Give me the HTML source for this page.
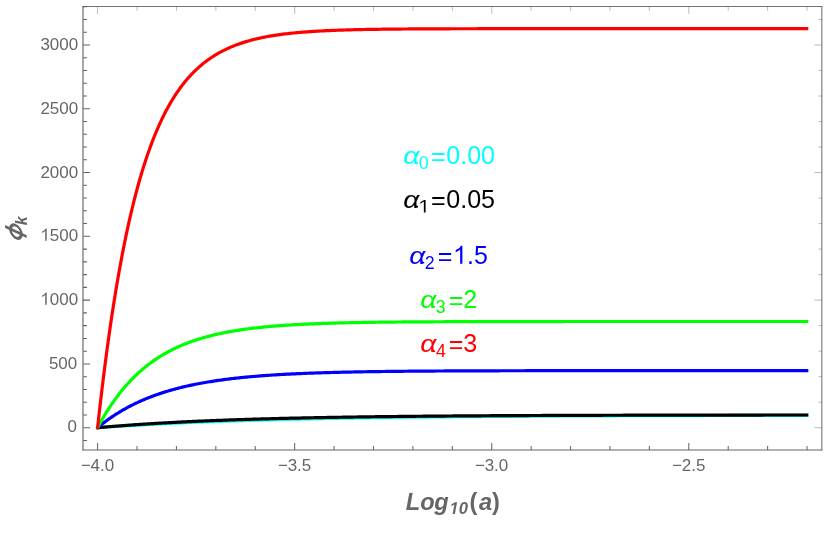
<!DOCTYPE html>
<html><head><meta charset="utf-8"><title>plot</title>
<style>
html,body{margin:0;padding:0;background:#fff;}
body{width:830px;height:554px;overflow:hidden;}
svg{display:block;will-change:transform;font-family:"Liberation Sans",sans-serif;}
</style></head><body>
<svg width="830" height="554" viewBox="0 0 830 554">
<rect width="830" height="554" fill="#fff"/>
<g fill="none" stroke-linejoin="round" stroke-linecap="butt" stroke-width="3.20">
<path d="M96.40,427.79 L97.60,427.70 L97.65,427.70 L97.75,427.69 L97.88,427.68 L98.05,427.67 L98.24,427.65 L98.46,427.64 L98.70,427.62 L98.96,427.60 L99.24,427.58 L99.54,427.56 L99.86,427.54 L100.20,427.51 L100.55,427.49 L100.92,427.46 L101.31,427.44 L101.71,427.41 L102.13,427.38 L102.57,427.35 L103.02,427.32 L103.48,427.28 L103.96,427.25 L104.45,427.22 L104.95,427.18 L105.47,427.15 L106.00,427.11 L106.54,427.07 L107.10,427.03 L107.67,427.00 L108.25,426.96 L108.85,426.92 L109.45,426.88 L110.07,426.83 L110.70,426.79 L111.34,426.75 L111.99,426.71 L112.66,426.66 L113.33,426.62 L114.02,426.57 L114.71,426.53 L115.42,426.48 L116.14,426.43 L116.87,426.39 L117.61,426.34 L118.36,426.29 L119.12,426.24 L119.89,426.19 L120.67,426.15 L121.46,426.10 L122.26,426.05 L123.07,426.00 L123.89,425.94 L124.72,425.89 L125.55,425.84 L126.40,425.79 L127.26,425.74 L128.13,425.68 L129.01,425.63 L129.89,425.58 L130.79,425.53 L131.69,425.47 L132.61,425.42 L133.53,425.36 L134.46,425.31 L135.40,425.25 L136.35,425.20 L137.31,425.14 L138.28,425.09 L139.25,425.03 L140.24,424.98 L141.23,424.92 L142.23,424.87 L143.24,424.81 L144.26,424.75 L145.29,424.70 L146.32,424.64 L147.36,424.58 L148.42,424.53 L149.48,424.47 L150.54,424.41 L151.62,424.36 L152.71,424.30 L153.80,424.24 L154.90,424.19 L156.01,424.13 L157.12,424.07 L158.25,424.01 L159.38,423.96 L160.52,423.90 L161.67,423.84 L162.82,423.78 L163.99,423.73 L165.16,423.67 L166.34,423.61 L167.52,423.55 L168.72,423.50 L169.92,423.44 L171.13,423.38 L172.34,423.33 L173.57,423.27 L174.80,423.21 L176.04,423.15 L177.28,423.10 L178.54,423.04 L179.80,422.98 L181.07,422.93 L182.34,422.87 L183.63,422.81 L184.92,422.76 L186.21,422.70 L187.52,422.64 L188.83,422.59 L190.15,422.53 L191.47,422.48 L192.81,422.42 L194.15,422.36 L195.49,422.31 L196.85,422.25 L198.21,422.20 L199.57,422.14 L200.95,422.09 L202.33,422.03 L203.72,421.98 L205.11,421.92 L206.52,421.87 L207.92,421.82 L209.34,421.76 L210.76,421.71 L212.19,421.65 L213.63,421.60 L215.07,421.55 L216.52,421.49 L217.97,421.44 L219.44,421.39 L220.91,421.34 L222.38,421.28 L223.86,421.23 L225.35,421.18 L226.85,421.13 L228.35,421.08 L229.86,421.03 L231.37,420.98 L232.89,420.93 L234.42,420.88 L235.96,420.83 L237.50,420.78 L239.04,420.73 L240.60,420.68 L242.16,420.63 L243.72,420.58 L245.29,420.53 L246.87,420.48 L248.46,420.43 L250.05,420.38 L251.65,420.34 L253.25,420.29 L254.86,420.24 L256.47,420.19 L258.10,420.15 L259.73,420.10 L261.36,420.05 L263.00,420.01 L264.65,419.96 L266.30,419.92 L267.96,419.87 L269.62,419.83 L271.30,419.78 L272.97,419.74 L274.66,419.69 L276.35,419.65 L278.04,419.61 L279.74,419.56 L281.45,419.52 L283.16,419.48 L284.88,419.43 L286.61,419.39 L288.34,419.35 L290.07,419.31 L291.82,419.27 L293.57,419.23 L295.32,419.19 L297.08,419.14 L298.85,419.10 L300.62,419.06 L302.40,419.02 L304.18,418.98 L305.97,418.95 L307.77,418.91 L309.57,418.87 L311.37,418.83 L313.19,418.79 L315.00,418.75 L316.83,418.72 L318.66,418.68 L320.49,418.64 L322.34,418.60 L324.18,418.57 L326.03,418.53 L327.89,418.50 L329.76,418.46 L331.63,418.43 L333.50,418.39 L335.38,418.36 L337.27,418.32 L339.16,418.29 L341.06,418.25 L342.96,418.22 L344.87,418.18 L346.78,418.15 L348.70,418.12 L350.63,418.09 L352.56,418.05 L354.49,418.02 L356.44,417.99 L358.38,417.96 L360.33,417.93 L362.29,417.90 L364.26,417.86 L366.22,417.83 L368.20,417.80 L370.18,417.77 L372.16,417.74 L374.15,417.71 L376.15,417.68 L378.15,417.66 L380.16,417.63 L382.17,417.60 L384.19,417.57 L386.21,417.54 L388.24,417.51 L390.27,417.49 L392.31,417.46 L394.35,417.43 L396.40,417.41 L398.46,417.38 L400.52,417.35 L402.58,417.33 L404.65,417.30 L406.73,417.27 L408.81,417.25 L410.90,417.22 L412.99,417.20 L415.08,417.17 L417.18,417.15 L419.29,417.13 L421.40,417.10 L423.52,417.08 L425.64,417.06 L427.77,417.03 L429.90,417.01 L432.04,416.99 L434.18,416.96 L436.33,416.94 L438.49,416.92 L440.64,416.90 L442.81,416.88 L444.98,416.85 L447.15,416.83 L449.33,416.81 L451.51,416.79 L453.70,416.77 L455.90,416.75 L458.09,416.73 L460.30,416.71 L462.51,416.69 L464.72,416.67 L466.94,416.65 L469.16,416.63 L471.39,416.61 L473.63,416.59 L475.87,416.58 L478.11,416.56 L480.36,416.54 L482.61,416.52 L484.87,416.50 L487.14,416.49 L489.41,416.47 L491.68,416.45 L493.96,416.43 L496.24,416.42 L498.53,416.40 L500.82,416.38 L503.12,416.37 L505.43,416.35 L507.73,416.33 L510.05,416.32 L512.36,416.30 L514.69,416.29 L517.02,416.27 L519.35,416.26 L521.68,416.24 L524.03,416.23 L526.37,416.21 L528.73,416.20 L531.08,416.18 L533.44,416.17 L535.81,416.16 L538.18,416.14 L540.56,416.13 L542.94,416.12 L545.32,416.10 L547.71,416.09 L550.11,416.08 L552.51,416.06 L554.91,416.05 L557.32,416.04 L559.74,416.03 L562.16,416.01 L564.58,416.00 L567.01,415.99 L569.44,415.98 L571.88,415.97 L574.32,415.95 L576.77,415.94 L579.22,415.93 L581.68,415.92 L584.14,415.91 L586.60,415.90 L589.07,415.89 L591.55,415.88 L594.03,415.87 L596.51,415.86 L599.00,415.85 L601.49,415.84 L603.99,415.83 L606.50,415.82 L609.00,415.81 L611.52,415.80 L614.03,415.79 L616.55,415.78 L619.08,415.77 L621.61,415.76 L624.15,415.75 L626.69,415.74 L629.23,415.73 L631.78,415.72 L634.33,415.72 L636.89,415.71 L639.45,415.70 L642.02,415.69 L644.59,415.68 L647.17,415.67 L649.75,415.67 L652.34,415.66 L654.93,415.65 L657.52,415.64 L660.12,415.64 L662.72,415.63 L665.33,415.62 L667.94,415.61 L670.56,415.61 L673.18,415.60 L675.81,415.59 L678.44,415.59 L681.07,415.58 L683.71,415.57 L686.36,415.57 L689.01,415.56 L691.66,415.55 L694.32,415.55 L696.98,415.54 L699.64,415.53 L702.31,415.53 L704.99,415.52 L707.67,415.52 L710.35,415.51 L713.04,415.50 L715.73,415.50 L718.43,415.49 L721.13,415.49 L723.84,415.48 L726.55,415.48 L729.26,415.47 L731.98,415.47 L734.70,415.46 L737.43,415.46 L740.16,415.45 L742.90,415.45 L745.64,415.44 L748.39,415.44 L751.14,415.43 L753.89,415.43 L756.65,415.42 L759.41,415.42 L762.18,415.41 L764.95,415.41 L767.72,415.41 L770.50,415.40 L773.29,415.40 L776.08,415.39 L778.87,415.39 L781.67,415.38 L784.47,415.38 L787.27,415.38 L790.08,415.37 L792.90,415.37 L795.72,415.37 L798.54,415.36 L801.37,415.36 L804.20,415.35 L807.03,415.35 L808.33,415.35" stroke="#00ffff"/>
<path d="M96.40,427.81 L97.60,427.70 L97.65,427.70 L97.75,427.69 L97.88,427.67 L98.05,427.66 L98.24,427.64 L98.46,427.62 L98.70,427.60 L98.96,427.58 L99.24,427.55 L99.54,427.53 L99.86,427.50 L100.20,427.47 L100.55,427.44 L100.92,427.41 L101.31,427.37 L101.71,427.34 L102.13,427.30 L102.57,427.26 L103.02,427.22 L103.48,427.18 L103.96,427.14 L104.45,427.10 L104.95,427.06 L105.47,427.01 L106.00,426.97 L106.54,426.92 L107.10,426.88 L107.67,426.83 L108.25,426.78 L108.85,426.73 L109.45,426.68 L110.07,426.63 L110.70,426.58 L111.34,426.52 L111.99,426.47 L112.66,426.42 L113.33,426.36 L114.02,426.31 L114.71,426.25 L115.42,426.20 L116.14,426.14 L116.87,426.08 L117.61,426.03 L118.36,425.97 L119.12,425.91 L119.89,425.85 L120.67,425.79 L121.46,425.73 L122.26,425.67 L123.07,425.61 L123.89,425.55 L124.72,425.48 L125.55,425.42 L126.40,425.36 L127.26,425.30 L128.13,425.23 L129.01,425.17 L129.89,425.11 L130.79,425.04 L131.69,424.98 L132.61,424.92 L133.53,424.85 L134.46,424.79 L135.40,424.72 L136.35,424.66 L137.31,424.59 L138.28,424.53 L139.25,424.46 L140.24,424.39 L141.23,424.33 L142.23,424.26 L143.24,424.20 L144.26,424.13 L145.29,424.06 L146.32,424.00 L147.36,423.93 L148.42,423.87 L149.48,423.80 L150.54,423.73 L151.62,423.67 L152.71,423.60 L153.80,423.53 L154.90,423.47 L156.01,423.40 L157.12,423.33 L158.25,423.27 L159.38,423.20 L160.52,423.14 L161.67,423.07 L162.82,423.00 L163.99,422.94 L165.16,422.87 L166.34,422.81 L167.52,422.74 L168.72,422.68 L169.92,422.61 L171.13,422.55 L172.34,422.48 L173.57,422.42 L174.80,422.35 L176.04,422.29 L177.28,422.22 L178.54,422.16 L179.80,422.10 L181.07,422.03 L182.34,421.97 L183.63,421.91 L184.92,421.84 L186.21,421.78 L187.52,421.72 L188.83,421.65 L190.15,421.59 L191.47,421.53 L192.81,421.47 L194.15,421.41 L195.49,421.35 L196.85,421.29 L198.21,421.22 L199.57,421.16 L200.95,421.10 L202.33,421.04 L203.72,420.99 L205.11,420.93 L206.52,420.87 L207.92,420.81 L209.34,420.75 L210.76,420.69 L212.19,420.63 L213.63,420.58 L215.07,420.52 L216.52,420.46 L217.97,420.41 L219.44,420.35 L220.91,420.30 L222.38,420.24 L223.86,420.18 L225.35,420.13 L226.85,420.08 L228.35,420.02 L229.86,419.97 L231.37,419.91 L232.89,419.86 L234.42,419.81 L235.96,419.76 L237.50,419.70 L239.04,419.65 L240.60,419.60 L242.16,419.55 L243.72,419.50 L245.29,419.45 L246.87,419.40 L248.46,419.35 L250.05,419.30 L251.65,419.25 L253.25,419.20 L254.86,419.15 L256.47,419.11 L258.10,419.06 L259.73,419.01 L261.36,418.96 L263.00,418.92 L264.65,418.87 L266.30,418.83 L267.96,418.78 L269.62,418.74 L271.30,418.69 L272.97,418.65 L274.66,418.60 L276.35,418.56 L278.04,418.52 L279.74,418.47 L281.45,418.43 L283.16,418.39 L284.88,418.35 L286.61,418.31 L288.34,418.26 L290.07,418.22 L291.82,418.18 L293.57,418.14 L295.32,418.10 L297.08,418.06 L298.85,418.03 L300.62,417.99 L302.40,417.95 L304.18,417.91 L305.97,417.87 L307.77,417.84 L309.57,417.80 L311.37,417.76 L313.19,417.73 L315.00,417.69 L316.83,417.66 L318.66,417.62 L320.49,417.59 L322.34,417.55 L324.18,417.52 L326.03,417.48 L327.89,417.45 L329.76,417.42 L331.63,417.39 L333.50,417.35 L335.38,417.32 L337.27,417.29 L339.16,417.26 L341.06,417.23 L342.96,417.20 L344.87,417.17 L346.78,417.14 L348.70,417.11 L350.63,417.08 L352.56,417.05 L354.49,417.02 L356.44,416.99 L358.38,416.96 L360.33,416.93 L362.29,416.91 L364.26,416.88 L366.22,416.85 L368.20,416.82 L370.18,416.80 L372.16,416.77 L374.15,416.75 L376.15,416.72 L378.15,416.69 L380.16,416.67 L382.17,416.65 L384.19,416.62 L386.21,416.60 L388.24,416.57 L390.27,416.55 L392.31,416.53 L394.35,416.50 L396.40,416.48 L398.46,416.46 L400.52,416.43 L402.58,416.41 L404.65,416.39 L406.73,416.37 L408.81,416.35 L410.90,416.33 L412.99,416.31 L415.08,416.29 L417.18,416.27 L419.29,416.25 L421.40,416.23 L423.52,416.21 L425.64,416.19 L427.77,416.17 L429.90,416.15 L432.04,416.13 L434.18,416.11 L436.33,416.10 L438.49,416.08 L440.64,416.06 L442.81,416.04 L444.98,416.03 L447.15,416.01 L449.33,415.99 L451.51,415.98 L453.70,415.96 L455.90,415.94 L458.09,415.93 L460.30,415.91 L462.51,415.90 L464.72,415.88 L466.94,415.87 L469.16,415.85 L471.39,415.84 L473.63,415.82 L475.87,415.81 L478.11,415.79 L480.36,415.78 L482.61,415.77 L484.87,415.75 L487.14,415.74 L489.41,415.73 L491.68,415.71 L493.96,415.70 L496.24,415.69 L498.53,415.67 L500.82,415.66 L503.12,415.65 L505.43,415.64 L507.73,415.63 L510.05,415.61 L512.36,415.60 L514.69,415.59 L517.02,415.58 L519.35,415.57 L521.68,415.56 L524.03,415.55 L526.37,415.54 L528.73,415.53 L531.08,415.52 L533.44,415.51 L535.81,415.50 L538.18,415.49 L540.56,415.48 L542.94,415.47 L545.32,415.46 L547.71,415.45 L550.11,415.44 L552.51,415.43 L554.91,415.42 L557.32,415.41 L559.74,415.41 L562.16,415.40 L564.58,415.39 L567.01,415.38 L569.44,415.37 L571.88,415.37 L574.32,415.36 L576.77,415.35 L579.22,415.34 L581.68,415.33 L584.14,415.33 L586.60,415.32 L589.07,415.31 L591.55,415.31 L594.03,415.30 L596.51,415.29 L599.00,415.29 L601.49,415.28 L603.99,415.27 L606.50,415.27 L609.00,415.26 L611.52,415.25 L614.03,415.25 L616.55,415.24 L619.08,415.24 L621.61,415.23 L624.15,415.22 L626.69,415.22 L629.23,415.21 L631.78,415.21 L634.33,415.20 L636.89,415.20 L639.45,415.19 L642.02,415.19 L644.59,415.18 L647.17,415.18 L649.75,415.17 L652.34,415.17 L654.93,415.16 L657.52,415.16 L660.12,415.15 L662.72,415.15 L665.33,415.14 L667.94,415.14 L670.56,415.14 L673.18,415.13 L675.81,415.13 L678.44,415.12 L681.07,415.12 L683.71,415.11 L686.36,415.11 L689.01,415.11 L691.66,415.10 L694.32,415.10 L696.98,415.10 L699.64,415.09 L702.31,415.09 L704.99,415.09 L707.67,415.08 L710.35,415.08 L713.04,415.08 L715.73,415.07 L718.43,415.07 L721.13,415.07 L723.84,415.06 L726.55,415.06 L729.26,415.06 L731.98,415.05 L734.70,415.05 L737.43,415.05 L740.16,415.05 L742.90,415.04 L745.64,415.04 L748.39,415.04 L751.14,415.04 L753.89,415.03 L756.65,415.03 L759.41,415.03 L762.18,415.03 L764.95,415.02 L767.72,415.02 L770.50,415.02 L773.29,415.02 L776.08,415.01 L778.87,415.01 L781.67,415.01 L784.47,415.01 L787.27,415.01 L790.08,415.00 L792.90,415.00 L795.72,415.00 L798.54,415.00 L801.37,415.00 L804.20,415.00 L807.03,414.99 L808.33,414.99" stroke="#000000"/>
<path d="M96.68,428.47 L97.60,427.70 L97.65,427.66 L97.75,427.58 L97.88,427.46 L98.05,427.33 L98.24,427.17 L98.46,426.99 L98.70,426.79 L98.96,426.58 L99.24,426.35 L99.54,426.11 L99.86,425.85 L100.20,425.58 L100.55,425.29 L100.92,425.00 L101.31,424.69 L101.71,424.37 L102.13,424.04 L102.57,423.71 L103.02,423.36 L103.48,423.00 L103.96,422.64 L104.45,422.27 L104.95,421.89 L105.47,421.50 L106.00,421.11 L106.54,420.71 L107.10,420.30 L107.67,419.89 L108.25,419.47 L108.85,419.05 L109.45,418.63 L110.07,418.19 L110.70,417.76 L111.34,417.32 L111.99,416.88 L112.66,416.43 L113.33,415.98 L114.02,415.53 L114.71,415.07 L115.42,414.62 L116.14,414.16 L116.87,413.70 L117.61,413.24 L118.36,412.77 L119.12,412.31 L119.89,411.84 L120.67,411.37 L121.46,410.90 L122.26,410.44 L123.07,409.97 L123.89,409.50 L124.72,409.03 L125.55,408.56 L126.40,408.10 L127.26,407.63 L128.13,407.16 L129.01,406.70 L129.89,406.23 L130.79,405.77 L131.69,405.31 L132.61,404.85 L133.53,404.39 L134.46,403.93 L135.40,403.48 L136.35,403.03 L137.31,402.58 L138.28,402.13 L139.25,401.68 L140.24,401.24 L141.23,400.80 L142.23,400.36 L143.24,399.92 L144.26,399.49 L145.29,399.06 L146.32,398.63 L147.36,398.21 L148.42,397.79 L149.48,397.37 L150.54,396.96 L151.62,396.55 L152.71,396.14 L153.80,395.74 L154.90,395.34 L156.01,394.94 L157.12,394.54 L158.25,394.15 L159.38,393.77 L160.52,393.39 L161.67,393.01 L162.82,392.63 L163.99,392.26 L165.16,391.89 L166.34,391.53 L167.52,391.17 L168.72,390.82 L169.92,390.47 L171.13,390.12 L172.34,389.77 L173.57,389.43 L174.80,389.10 L176.04,388.77 L177.28,388.44 L178.54,388.12 L179.80,387.80 L181.07,387.48 L182.34,387.17 L183.63,386.86 L184.92,386.56 L186.21,386.26 L187.52,385.97 L188.83,385.67 L190.15,385.39 L191.47,385.10 L192.81,384.82 L194.15,384.55 L195.49,384.28 L196.85,384.01 L198.21,383.75 L199.57,383.49 L200.95,383.23 L202.33,382.98 L203.72,382.73 L205.11,382.49 L206.52,382.25 L207.92,382.01 L209.34,381.78 L210.76,381.55 L212.19,381.32 L213.63,381.10 L215.07,380.88 L216.52,380.66 L217.97,380.45 L219.44,380.24 L220.91,380.04 L222.38,379.84 L223.86,379.64 L225.35,379.45 L226.85,379.26 L228.35,379.07 L229.86,378.88 L231.37,378.70 L232.89,378.53 L234.42,378.35 L235.96,378.18 L237.50,378.01 L239.04,377.85 L240.60,377.68 L242.16,377.52 L243.72,377.37 L245.29,377.21 L246.87,377.06 L248.46,376.92 L250.05,376.77 L251.65,376.63 L253.25,376.49 L254.86,376.35 L256.47,376.22 L258.10,376.09 L259.73,375.96 L261.36,375.83 L263.00,375.71 L264.65,375.59 L266.30,375.47 L267.96,375.35 L269.62,375.24 L271.30,375.13 L272.97,375.02 L274.66,374.91 L276.35,374.81 L278.04,374.70 L279.74,374.60 L281.45,374.51 L283.16,374.41 L284.88,374.32 L286.61,374.22 L288.34,374.13 L290.07,374.05 L291.82,373.96 L293.57,373.87 L295.32,373.79 L297.08,373.71 L298.85,373.63 L300.62,373.56 L302.40,373.48 L304.18,373.41 L305.97,373.33 L307.77,373.26 L309.57,373.19 L311.37,373.13 L313.19,373.06 L315.00,373.00 L316.83,372.93 L318.66,372.87 L320.49,372.81 L322.34,372.76 L324.18,372.70 L326.03,372.64 L327.89,372.59 L329.76,372.54 L331.63,372.48 L333.50,372.43 L335.38,372.38 L337.27,372.34 L339.16,372.29 L341.06,372.24 L342.96,372.20 L344.87,372.15 L346.78,372.11 L348.70,372.07 L350.63,372.03 L352.56,371.99 L354.49,371.95 L356.44,371.91 L358.38,371.88 L360.33,371.84 L362.29,371.81 L364.26,371.77 L366.22,371.74 L368.20,371.71 L370.18,371.68 L372.16,371.65 L374.15,371.62 L376.15,371.59 L378.15,371.56 L380.16,371.53 L382.17,371.51 L384.19,371.48 L386.21,371.46 L388.24,371.43 L390.27,371.41 L392.31,371.38 L394.35,371.36 L396.40,371.34 L398.46,371.32 L400.52,371.30 L402.58,371.28 L404.65,371.26 L406.73,371.24 L408.81,371.22 L410.90,371.20 L412.99,371.18 L415.08,371.17 L417.18,371.15 L419.29,371.13 L421.40,371.12 L423.52,371.10 L425.64,371.09 L427.77,371.07 L429.90,371.06 L432.04,371.04 L434.18,371.03 L436.33,371.02 L438.49,371.01 L440.64,370.99 L442.81,370.98 L444.98,370.97 L447.15,370.96 L449.33,370.95 L451.51,370.94 L453.70,370.93 L455.90,370.92 L458.09,370.91 L460.30,370.90 L462.51,370.89 L464.72,370.88 L466.94,370.87 L469.16,370.86 L471.39,370.86 L473.63,370.85 L475.87,370.84 L478.11,370.83 L480.36,370.83 L482.61,370.82 L484.87,370.81 L487.14,370.81 L489.41,370.80 L491.68,370.79 L493.96,370.79 L496.24,370.78 L498.53,370.78 L500.82,370.77 L503.12,370.77 L505.43,370.76 L507.73,370.76 L510.05,370.75 L512.36,370.75 L514.69,370.74 L517.02,370.74 L519.35,370.73 L521.68,370.73 L524.03,370.73 L526.37,370.72 L528.73,370.72 L531.08,370.71 L533.44,370.71 L535.81,370.71 L538.18,370.70 L540.56,370.70 L542.94,370.70 L545.32,370.69 L547.71,370.69 L550.11,370.69 L552.51,370.69 L554.91,370.68 L557.32,370.68 L559.74,370.68 L562.16,370.68 L564.58,370.67 L567.01,370.67 L569.44,370.67 L571.88,370.67 L574.32,370.67 L576.77,370.66 L579.22,370.66 L581.68,370.66 L584.14,370.66 L586.60,370.66 L589.07,370.66 L591.55,370.65 L594.03,370.65 L596.51,370.65 L599.00,370.65 L601.49,370.65 L603.99,370.65 L606.50,370.65 L609.00,370.64 L611.52,370.64 L614.03,370.64 L616.55,370.64 L619.08,370.64 L621.61,370.64 L624.15,370.64 L626.69,370.64 L629.23,370.64 L631.78,370.64 L634.33,370.63 L636.89,370.63 L639.45,370.63 L642.02,370.63 L644.59,370.63 L647.17,370.63 L649.75,370.63 L652.34,370.63 L654.93,370.63 L657.52,370.63 L660.12,370.63 L662.72,370.63 L665.33,370.63 L667.94,370.63 L670.56,370.63 L673.18,370.63 L675.81,370.62 L678.44,370.62 L681.07,370.62 L683.71,370.62 L686.36,370.62 L689.01,370.62 L691.66,370.62 L694.32,370.62 L696.98,370.62 L699.64,370.62 L702.31,370.62 L704.99,370.62 L707.67,370.62 L710.35,370.62 L713.04,370.62 L715.73,370.62 L718.43,370.62 L721.13,370.62 L723.84,370.62 L726.55,370.62 L729.26,370.62 L731.98,370.62 L734.70,370.62 L737.43,370.62 L740.16,370.62 L742.90,370.62 L745.64,370.62 L748.39,370.62 L751.14,370.62 L753.89,370.62 L756.65,370.62 L759.41,370.62 L762.18,370.62 L764.95,370.62 L767.72,370.62 L770.50,370.62 L773.29,370.62 L776.08,370.62 L778.87,370.62 L781.67,370.62 L784.47,370.61 L787.27,370.61 L790.08,370.61 L792.90,370.61 L795.72,370.61 L798.54,370.61 L801.37,370.61 L804.20,370.61 L807.03,370.61 L808.33,370.61" stroke="#0000ff"/>
<path d="M97.04,428.76 L97.60,427.70 L97.65,427.61 L97.75,427.42 L97.88,427.17 L98.05,426.86 L98.24,426.50 L98.46,426.10 L98.70,425.65 L98.96,425.17 L99.24,424.65 L99.54,424.10 L99.86,423.52 L100.20,422.91 L100.55,422.28 L100.92,421.62 L101.31,420.93 L101.71,420.22 L102.13,419.49 L102.57,418.73 L103.02,417.96 L103.48,417.17 L103.96,416.36 L104.45,415.54 L104.95,414.70 L105.47,413.85 L106.00,412.98 L106.54,412.10 L107.10,411.21 L107.67,410.31 L108.25,409.39 L108.85,408.47 L109.45,407.54 L110.07,406.60 L110.70,405.66 L111.34,404.70 L111.99,403.75 L112.66,402.78 L113.33,401.81 L114.02,400.84 L114.71,399.87 L115.42,398.89 L116.14,397.91 L116.87,396.92 L117.61,395.94 L118.36,394.96 L119.12,393.97 L119.89,392.99 L120.67,392.00 L121.46,391.02 L122.26,390.04 L123.07,389.06 L123.89,388.08 L124.72,387.11 L125.55,386.14 L126.40,385.17 L127.26,384.21 L128.13,383.25 L129.01,382.30 L129.89,381.35 L130.79,380.40 L131.69,379.46 L132.61,378.53 L133.53,377.60 L134.46,376.68 L135.40,375.77 L136.35,374.86 L137.31,373.96 L138.28,373.07 L139.25,372.18 L140.24,371.30 L141.23,370.43 L142.23,369.57 L143.24,368.72 L144.26,367.87 L145.29,367.03 L146.32,366.20 L147.36,365.38 L148.42,364.57 L149.48,363.77 L150.54,362.97 L151.62,362.19 L152.71,361.41 L153.80,360.64 L154.90,359.88 L156.01,359.14 L157.12,358.40 L158.25,357.67 L159.38,356.95 L160.52,356.24 L161.67,355.54 L162.82,354.84 L163.99,354.16 L165.16,353.49 L166.34,352.83 L167.52,352.17 L168.72,351.53 L169.92,350.90 L171.13,350.27 L172.34,349.66 L173.57,349.05 L174.80,348.46 L176.04,347.87 L177.28,347.29 L178.54,346.72 L179.80,346.16 L181.07,345.62 L182.34,345.08 L183.63,344.54 L184.92,344.02 L186.21,343.51 L187.52,343.01 L188.83,342.51 L190.15,342.02 L191.47,341.55 L192.81,341.08 L194.15,340.62 L195.49,340.16 L196.85,339.72 L198.21,339.29 L199.57,338.86 L200.95,338.44 L202.33,338.03 L203.72,337.63 L205.11,337.23 L206.52,336.85 L207.92,336.47 L209.34,336.09 L210.76,335.73 L212.19,335.37 L213.63,335.02 L215.07,334.68 L216.52,334.35 L217.97,334.02 L219.44,333.70 L220.91,333.38 L222.38,333.08 L223.86,332.78 L225.35,332.48 L226.85,332.19 L228.35,331.91 L229.86,331.64 L231.37,331.37 L232.89,331.10 L234.42,330.85 L235.96,330.60 L237.50,330.35 L239.04,330.11 L240.60,329.88 L242.16,329.65 L243.72,329.42 L245.29,329.21 L246.87,328.99 L248.46,328.78 L250.05,328.58 L251.65,328.38 L253.25,328.19 L254.86,328.00 L256.47,327.82 L258.10,327.64 L259.73,327.46 L261.36,327.29 L263.00,327.13 L264.65,326.96 L266.30,326.81 L267.96,326.65 L269.62,326.50 L271.30,326.36 L272.97,326.21 L274.66,326.07 L276.35,325.94 L278.04,325.81 L279.74,325.68 L281.45,325.55 L283.16,325.43 L284.88,325.31 L286.61,325.20 L288.34,325.09 L290.07,324.98 L291.82,324.87 L293.57,324.77 L295.32,324.67 L297.08,324.57 L298.85,324.48 L300.62,324.38 L302.40,324.29 L304.18,324.21 L305.97,324.12 L307.77,324.04 L309.57,323.96 L311.37,323.88 L313.19,323.81 L315.00,323.73 L316.83,323.66 L318.66,323.59 L320.49,323.53 L322.34,323.46 L324.18,323.40 L326.03,323.34 L327.89,323.28 L329.76,323.22 L331.63,323.16 L333.50,323.11 L335.38,323.05 L337.27,323.00 L339.16,322.95 L341.06,322.91 L342.96,322.86 L344.87,322.81 L346.78,322.77 L348.70,322.73 L350.63,322.69 L352.56,322.65 L354.49,322.61 L356.44,322.57 L358.38,322.53 L360.33,322.50 L362.29,322.46 L364.26,322.43 L366.22,322.40 L368.20,322.37 L370.18,322.34 L372.16,322.31 L374.15,322.28 L376.15,322.25 L378.15,322.23 L380.16,322.20 L382.17,322.18 L384.19,322.15 L386.21,322.13 L388.24,322.11 L390.27,322.09 L392.31,322.06 L394.35,322.04 L396.40,322.02 L398.46,322.01 L400.52,321.99 L402.58,321.97 L404.65,321.95 L406.73,321.94 L408.81,321.92 L410.90,321.91 L412.99,321.89 L415.08,321.88 L417.18,321.86 L419.29,321.85 L421.40,321.84 L423.52,321.82 L425.64,321.81 L427.77,321.80 L429.90,321.79 L432.04,321.78 L434.18,321.77 L436.33,321.76 L438.49,321.75 L440.64,321.74 L442.81,321.73 L444.98,321.72 L447.15,321.71 L449.33,321.70 L451.51,321.70 L453.70,321.69 L455.90,321.68 L458.09,321.67 L460.30,321.67 L462.51,321.66 L464.72,321.65 L466.94,321.65 L469.16,321.64 L471.39,321.64 L473.63,321.63 L475.87,321.63 L478.11,321.62 L480.36,321.62 L482.61,321.61 L484.87,321.61 L487.14,321.60 L489.41,321.60 L491.68,321.59 L493.96,321.59 L496.24,321.59 L498.53,321.58 L500.82,321.58 L503.12,321.58 L505.43,321.57 L507.73,321.57 L510.05,321.57 L512.36,321.57 L514.69,321.56 L517.02,321.56 L519.35,321.56 L521.68,321.55 L524.03,321.55 L526.37,321.55 L528.73,321.55 L531.08,321.55 L533.44,321.54 L535.81,321.54 L538.18,321.54 L540.56,321.54 L542.94,321.54 L545.32,321.54 L547.71,321.53 L550.11,321.53 L552.51,321.53 L554.91,321.53 L557.32,321.53 L559.74,321.53 L562.16,321.53 L564.58,321.52 L567.01,321.52 L569.44,321.52 L571.88,321.52 L574.32,321.52 L576.77,321.52 L579.22,321.52 L581.68,321.52 L584.14,321.52 L586.60,321.52 L589.07,321.52 L591.55,321.51 L594.03,321.51 L596.51,321.51 L599.00,321.51 L601.49,321.51 L603.99,321.51 L606.50,321.51 L609.00,321.51 L611.52,321.51 L614.03,321.51 L616.55,321.51 L619.08,321.51 L621.61,321.51 L624.15,321.51 L626.69,321.51 L629.23,321.51 L631.78,321.51 L634.33,321.51 L636.89,321.51 L639.45,321.51 L642.02,321.50 L644.59,321.50 L647.17,321.50 L649.75,321.50 L652.34,321.50 L654.93,321.50 L657.52,321.50 L660.12,321.50 L662.72,321.50 L665.33,321.50 L667.94,321.50 L670.56,321.50 L673.18,321.50 L675.81,321.50 L678.44,321.50 L681.07,321.50 L683.71,321.50 L686.36,321.50 L689.01,321.50 L691.66,321.50 L694.32,321.50 L696.98,321.50 L699.64,321.50 L702.31,321.50 L704.99,321.50 L707.67,321.50 L710.35,321.50 L713.04,321.50 L715.73,321.50 L718.43,321.50 L721.13,321.50 L723.84,321.50 L726.55,321.50 L729.26,321.50 L731.98,321.50 L734.70,321.50 L737.43,321.50 L740.16,321.50 L742.90,321.50 L745.64,321.50 L748.39,321.50 L751.14,321.50 L753.89,321.50 L756.65,321.50 L759.41,321.50 L762.18,321.50 L764.95,321.50 L767.72,321.50 L770.50,321.50 L773.29,321.50 L776.08,321.50 L778.87,321.50 L781.67,321.50 L784.47,321.50 L787.27,321.50 L790.08,321.50 L792.90,321.50 L795.72,321.50 L798.54,321.50 L801.37,321.50 L804.20,321.50 L807.03,321.50 L808.33,321.50" stroke="#00ff00"/>
<path d="M97.47,428.89 L97.60,427.70 L97.65,427.25 L97.75,426.34 L97.88,425.11 L98.05,423.60 L98.24,421.85 L98.46,419.89 L98.70,417.73 L98.96,415.40 L99.24,412.89 L99.54,410.24 L99.86,407.43 L100.20,404.50 L100.55,401.43 L100.92,398.25 L101.31,394.96 L101.71,391.56 L102.13,388.07 L102.57,384.49 L103.02,380.82 L103.48,377.08 L103.96,373.26 L104.45,369.38 L104.95,365.43 L105.47,361.43 L106.00,357.38 L106.54,353.28 L107.10,349.13 L107.67,344.95 L108.25,340.73 L108.85,336.49 L109.45,332.21 L110.07,327.92 L110.70,323.60 L111.34,319.27 L111.99,314.93 L112.66,310.58 L113.33,306.23 L114.02,301.87 L114.71,297.51 L115.42,293.16 L116.14,288.81 L116.87,284.47 L117.61,280.15 L118.36,275.83 L119.12,271.54 L119.89,267.26 L120.67,263.00 L121.46,258.77 L122.26,254.56 L123.07,250.37 L123.89,246.22 L124.72,242.09 L125.55,238.00 L126.40,233.94 L127.26,229.91 L128.13,225.93 L129.01,221.97 L129.89,218.06 L130.79,214.19 L131.69,210.35 L132.61,206.56 L133.53,202.82 L134.46,199.11 L135.40,195.45 L136.35,191.84 L137.31,188.27 L138.28,184.75 L139.25,181.27 L140.24,177.84 L141.23,174.46 L142.23,171.13 L143.24,167.85 L144.26,164.62 L145.29,161.43 L146.32,158.30 L147.36,155.21 L148.42,152.18 L149.48,149.19 L150.54,146.26 L151.62,143.37 L152.71,140.54 L153.80,137.75 L154.90,135.02 L156.01,132.33 L157.12,129.70 L158.25,127.11 L159.38,124.57 L160.52,122.08 L161.67,119.64 L162.82,117.24 L163.99,114.90 L165.16,112.60 L166.34,110.34 L167.52,108.14 L168.72,105.98 L169.92,103.86 L171.13,101.79 L172.34,99.77 L173.57,97.79 L174.80,95.85 L176.04,93.96 L177.28,92.11 L178.54,90.30 L179.80,88.53 L181.07,86.80 L182.34,85.12 L183.63,83.47 L184.92,81.86 L186.21,80.29 L187.52,78.76 L188.83,77.27 L190.15,75.81 L191.47,74.39 L192.81,73.01 L194.15,71.66 L195.49,70.34 L196.85,69.06 L198.21,67.81 L199.57,66.59 L200.95,65.41 L202.33,64.26 L203.72,63.13 L205.11,62.04 L206.52,60.98 L207.92,59.95 L209.34,58.94 L210.76,57.96 L212.19,57.01 L213.63,56.09 L215.07,55.19 L216.52,54.32 L217.97,53.47 L219.44,52.65 L220.91,51.85 L222.38,51.07 L223.86,50.32 L225.35,49.59 L226.85,48.88 L228.35,48.19 L229.86,47.52 L231.37,46.87 L232.89,46.24 L234.42,45.63 L235.96,45.04 L237.50,44.47 L239.04,43.92 L240.60,43.38 L242.16,42.86 L243.72,42.36 L245.29,41.87 L246.87,41.40 L248.46,40.94 L250.05,40.50 L251.65,40.07 L253.25,39.65 L254.86,39.25 L256.47,38.86 L258.10,38.49 L259.73,38.13 L261.36,37.78 L263.00,37.44 L264.65,37.11 L266.30,36.79 L267.96,36.49 L269.62,36.19 L271.30,35.91 L272.97,35.63 L274.66,35.37 L276.35,35.11 L278.04,34.86 L279.74,34.63 L281.45,34.40 L283.16,34.17 L284.88,33.96 L286.61,33.75 L288.34,33.55 L290.07,33.36 L291.82,33.17 L293.57,33.00 L295.32,32.82 L297.08,32.66 L298.85,32.50 L300.62,32.35 L302.40,32.20 L304.18,32.05 L305.97,31.92 L307.77,31.79 L309.57,31.66 L311.37,31.54 L313.19,31.42 L315.00,31.30 L316.83,31.20 L318.66,31.09 L320.49,30.99 L322.34,30.89 L324.18,30.80 L326.03,30.71 L327.89,30.62 L329.76,30.54 L331.63,30.46 L333.50,30.39 L335.38,30.31 L337.27,30.24 L339.16,30.17 L341.06,30.11 L342.96,30.05 L344.87,29.99 L346.78,29.93 L348.70,29.88 L350.63,29.82 L352.56,29.77 L354.49,29.72 L356.44,29.68 L358.38,29.63 L360.33,29.59 L362.29,29.55 L364.26,29.51 L366.22,29.47 L368.20,29.44 L370.18,29.40 L372.16,29.37 L374.15,29.34 L376.15,29.31 L378.15,29.28 L380.16,29.25 L382.17,29.22 L384.19,29.20 L386.21,29.17 L388.24,29.15 L390.27,29.13 L392.31,29.11 L394.35,29.08 L396.40,29.07 L398.46,29.05 L400.52,29.03 L402.58,29.01 L404.65,29.00 L406.73,28.98 L408.81,28.96 L410.90,28.95 L412.99,28.94 L415.08,28.92 L417.18,28.91 L419.29,28.90 L421.40,28.89 L423.52,28.88 L425.64,28.87 L427.77,28.86 L429.90,28.85 L432.04,28.84 L434.18,28.83 L436.33,28.82 L438.49,28.81 L440.64,28.81 L442.81,28.80 L444.98,28.79 L447.15,28.79 L449.33,28.78 L451.51,28.77 L453.70,28.77 L455.90,28.76 L458.09,28.76 L460.30,28.75 L462.51,28.75 L464.72,28.74 L466.94,28.74 L469.16,28.74 L471.39,28.73 L473.63,28.73 L475.87,28.73 L478.11,28.72 L480.36,28.72 L482.61,28.72 L484.87,28.71 L487.14,28.71 L489.41,28.71 L491.68,28.71 L493.96,28.70 L496.24,28.70 L498.53,28.70 L500.82,28.70 L503.12,28.70 L505.43,28.69 L507.73,28.69 L510.05,28.69 L512.36,28.69 L514.69,28.69 L517.02,28.69 L519.35,28.68 L521.68,28.68 L524.03,28.68 L526.37,28.68 L528.73,28.68 L531.08,28.68 L533.44,28.68 L535.81,28.68 L538.18,28.68 L540.56,28.68 L542.94,28.67 L545.32,28.67 L547.71,28.67 L550.11,28.67 L552.51,28.67 L554.91,28.67 L557.32,28.67 L559.74,28.67 L562.16,28.67 L564.58,28.67 L567.01,28.67 L569.44,28.67 L571.88,28.67 L574.32,28.67 L576.77,28.67 L579.22,28.67 L581.68,28.67 L584.14,28.67 L586.60,28.67 L589.07,28.67 L591.55,28.67 L594.03,28.67 L596.51,28.67 L599.00,28.66 L601.49,28.66 L603.99,28.66 L606.50,28.66 L609.00,28.66 L611.52,28.66 L614.03,28.66 L616.55,28.66 L619.08,28.66 L621.61,28.66 L624.15,28.66 L626.69,28.66 L629.23,28.66 L631.78,28.66 L634.33,28.66 L636.89,28.66 L639.45,28.66 L642.02,28.66 L644.59,28.66 L647.17,28.66 L649.75,28.66 L652.34,28.66 L654.93,28.66 L657.52,28.66 L660.12,28.66 L662.72,28.66 L665.33,28.66 L667.94,28.66 L670.56,28.66 L673.18,28.66 L675.81,28.66 L678.44,28.66 L681.07,28.66 L683.71,28.66 L686.36,28.66 L689.01,28.66 L691.66,28.66 L694.32,28.66 L696.98,28.66 L699.64,28.66 L702.31,28.66 L704.99,28.66 L707.67,28.66 L710.35,28.66 L713.04,28.66 L715.73,28.66 L718.43,28.66 L721.13,28.66 L723.84,28.66 L726.55,28.66 L729.26,28.66 L731.98,28.66 L734.70,28.66 L737.43,28.66 L740.16,28.66 L742.90,28.66 L745.64,28.66 L748.39,28.66 L751.14,28.66 L753.89,28.66 L756.65,28.66 L759.41,28.66 L762.18,28.66 L764.95,28.66 L767.72,28.66 L770.50,28.66 L773.29,28.66 L776.08,28.66 L778.87,28.66 L781.67,28.66 L784.47,28.66 L787.27,28.66 L790.08,28.66 L792.90,28.66 L795.72,28.66 L798.54,28.66 L801.37,28.66 L804.20,28.66 L807.03,28.66 L808.33,28.66" stroke="#ff0000"/>
</g>
<g stroke="#666" fill="none"><path d="M83.0,6.0 V450.55" stroke-width="1.15"/><path d="M82.45,450.0 H822.35" stroke-width="1.22"/><path d="M82.45,6.5 H822.35" stroke-width="0.92"/><path d="M821.85,6.0 V450.55" stroke-width="0.98"/></g>
<path d="M97.60,450.0 v-7.0 M137.01,450.0 v-4.0 M176.43,450.0 v-4.0 M215.84,450.0 v-4.0 M255.25,450.0 v-4.0 M294.66,450.0 v-7.0 M334.08,450.0 v-4.0 M373.49,450.0 v-4.0 M412.90,450.0 v-4.0 M452.32,450.0 v-4.0 M491.73,450.0 v-7.0 M531.14,450.0 v-4.0 M570.56,450.0 v-4.0 M609.97,450.0 v-4.0 M649.38,450.0 v-4.0 M688.79,450.0 v-7.0 M728.21,450.0 v-4.0 M767.62,450.0 v-4.0 M807.03,450.0 v-4.0 M83.0,440.46 h4.0 M83.0,427.70 h7.0 M83.0,414.94 h4.0 M83.0,402.19 h4.0 M83.0,389.43 h4.0 M83.0,376.67 h4.0 M83.0,363.91 h7.0 M83.0,351.16 h4.0 M83.0,338.40 h4.0 M83.0,325.64 h4.0 M83.0,312.89 h4.0 M83.0,300.13 h7.0 M83.0,287.37 h4.0 M83.0,274.62 h4.0 M83.0,261.86 h4.0 M83.0,249.10 h4.0 M83.0,236.34 h7.0 M83.0,223.59 h4.0 M83.0,210.83 h4.0 M83.0,198.07 h4.0 M83.0,185.32 h4.0 M83.0,172.56 h7.0 M83.0,159.80 h4.0 M83.0,147.05 h4.0 M83.0,134.29 h4.0 M83.0,121.53 h4.0 M83.0,108.78 h7.0 M83.0,96.02 h4.0 M83.0,83.26 h4.0 M83.0,70.50 h4.0 M83.0,57.75 h4.0 M83.0,44.99 h7.0 M83.0,32.23 h4.0 M83.0,19.48 h4.0 M83.0,6.72 h4.0" stroke="#666" stroke-width="1.05" fill="none"/>
<path d="M97.60,6.5 v7.3 M137.01,6.5 v4.3 M176.43,6.5 v4.3 M215.84,6.5 v4.3 M255.25,6.5 v4.3 M294.66,6.5 v7.3 M334.08,6.5 v4.3 M373.49,6.5 v4.3 M412.90,6.5 v4.3 M452.32,6.5 v4.3 M491.73,6.5 v7.3 M531.14,6.5 v4.3 M570.56,6.5 v4.3 M609.97,6.5 v4.3 M649.38,6.5 v4.3 M688.79,6.5 v7.3 M728.21,6.5 v4.3 M767.62,6.5 v4.3 M807.03,6.5 v4.3" stroke="#666" stroke-width="0.45" fill="none"/>
<path d="M821.85,427.70 h-7.5 M821.85,402.19 h-3.5 M821.85,376.67 h-3.5 M821.85,351.16 h-3.5 M821.85,325.64 h-3.5 M821.85,300.13 h-7.5 M821.85,274.62 h-3.5 M821.85,249.10 h-3.5 M821.85,223.59 h-3.5 M821.85,198.07 h-3.5 M821.85,172.56 h-7.5 M821.85,147.05 h-3.5 M821.85,121.53 h-3.5 M821.85,96.02 h-3.5 M821.85,70.50 h-3.5 M821.85,44.99 h-7.5 M821.85,19.48 h-3.5" stroke="#666" stroke-width="0.45" fill="none"/>
<g font-size="16.95" fill="#666">
<text transform="translate(77.0,432.35) scale(1,1.02)" text-anchor="end">0</text>
<text transform="translate(77.15,368.76) scale(1,1.02)" text-anchor="end">500</text>
<path d="M46.71,304.83 L46.71,292.45 L45.79,292.45 L44.64,294.02 L42.25,295.41 L42.25,296.91 L43.88,296.10 L45.22,295.04 L45.22,304.83Z"/>
<text transform="translate(78.1,304.83) scale(1,1.02)" text-anchor="end">000</text>
<path d="M46.71,240.84 L46.71,228.47 L45.79,228.47 L44.64,230.04 L42.25,231.42 L42.25,232.93 L43.88,232.11 L45.22,231.06 L45.22,240.84Z"/>
<text transform="translate(78.1,240.84) scale(1,1.02)" text-anchor="end">500</text>
<text transform="translate(78.1,177.56) scale(1,1.02)" text-anchor="end">2000</text>
<text transform="translate(78.1,113.63) scale(1,1.02)" text-anchor="end">2500</text>
<text transform="translate(78.1,49.99) scale(1,1.02)" text-anchor="end">3000</text>
<text x="80.97" y="471.3">−</text>
<text transform="translate(90.57,470.55) scale(1,1.02)">4.0</text>
<text x="278.04" y="471.3">−</text>
<text transform="translate(287.63,470.55) scale(1,1.02)">3.5</text>
<text x="475.10" y="471.3">−</text>
<text transform="translate(484.70,470.55) scale(1,1.02)">3.0</text>
<text x="672.17" y="471.3">−</text>
<text transform="translate(681.76,470.55) scale(1,1.02)">2.5</text>
</g>
<g fill="#00ffff" font-size="25.1">
<text transform="translate(403.14,164.0) scale(1.12,0.955)" font-style="italic">α</text>
<path d="M415.30,161.80 Q415.40,163.25 418.00,162.80" fill="none" stroke="#00ffff" stroke-width="1.7" stroke-linecap="butt"/>
<text x="418.71" y="168.90" font-size="17.8">0</text>
<text x="431.07" y="165.00">=</text>
<text transform="translate(446.23,164.0) scale(1,1.025)">0.00</text>
</g>
<g fill="#000000" font-size="25.1">
<text transform="translate(403.14,207.8) scale(1.12,0.955)" font-style="italic">α</text>
<path d="M415.30,205.60 Q415.40,207.05 418.00,206.60" fill="none" stroke="#000000" stroke-width="1.7" stroke-linecap="butt"/>
<path d="M423.85,212.50 L423.85,201.60 L420.30,203.75 L420.30,202.20 L424.05,200.00 L425.60,200.00 L425.60,212.50 Z"/>
<text x="431.07" y="208.80">=</text>
<text transform="translate(446.23,207.8) scale(1,1.025)">0.05</text>
</g>
<g fill="#0000ff" font-size="25.1">
<text transform="translate(409.34,263.7) scale(1.12,0.955)" font-style="italic">α</text>
<path d="M421.50,261.50 Q421.60,262.95 424.20,262.50" fill="none" stroke="#0000ff" stroke-width="1.7" stroke-linecap="butt"/>
<text x="424.71" y="268.60" font-size="17.8">2</text>
<text x="437.87" y="264.70">=</text>
<path d="M462.37,263.70 L462.37,245.73 L461.01,245.73 L459.30,248.01 L455.76,250.02 L455.76,252.20 L458.17,251.02 L460.16,249.49 L460.16,263.70Z"/>
<text transform="translate(466.98,263.7) scale(1,1.025)">.5</text>
</g>
<g fill="#00ff00" font-size="25.1">
<text transform="translate(420.14,308.0) scale(1.12,0.955)" font-style="italic">α</text>
<path d="M432.30,305.80 Q432.40,307.25 435.00,306.80" fill="none" stroke="#00ff00" stroke-width="1.7" stroke-linecap="butt"/>
<text x="435.72" y="312.90" font-size="17.8">3</text>
<text x="448.67" y="309.00">=</text>
<text transform="translate(463.23,308.0) scale(1,1.025)">2</text>
</g>
<g fill="#ff0000" font-size="25.1">
<text transform="translate(420.14,352.3) scale(1.12,0.955)" font-style="italic">α</text>
<path d="M432.30,350.10 Q432.40,351.55 435.00,351.10" fill="none" stroke="#ff0000" stroke-width="1.7" stroke-linecap="butt"/>
<text x="435.99" y="357.20" font-size="17.8">4</text>
<text x="448.67" y="353.30">=</text>
<text transform="translate(463.33,352.3) scale(1,1.025)">3</text>
</g>
<text x="405.68" y="510.10" font-size="23.6" font-weight="bold" font-style="italic" fill="#666">L</text>
<text x="420.27" y="510.10" font-size="23.6" font-weight="bold" font-style="italic" fill="#666">o</text>
<text x="434.37" y="510.10" font-size="23.6" font-weight="bold" font-style="italic" fill="#666">g</text>
<path fill="#666" d="M452.59,514.00 L454.40,504.39 L451.31,506.17 L451.69,504.15 L454.89,502.24 L457.09,502.24 L454.86,514.00Z"/>
<text x="458.80" y="514.00" font-size="16.6" font-weight="bold" font-style="italic" fill="#666">0</text>
<text x="469.52" y="510.10" font-size="23.6" font-weight="bold" font-style="normal" fill="#666">(</text>
<text x="478.88" y="510.10" font-size="23.6" font-weight="bold" font-style="italic" fill="#666">a</text>
<text x="491.98" y="510.10" font-size="23.6" font-weight="bold" font-style="normal" fill="#666">)</text>
<g transform="translate(22.4,234.63) rotate(-90) skewX(-25)" fill="none" stroke="#666"><ellipse cx="0" cy="-6.5" rx="6.3" ry="5.45" stroke-width="2.7"/><path d="M0,4.3 V-17.3" stroke-width="2.9"/></g>
<text transform="translate(26.7,225.3) rotate(-90) scale(0.97,1)" font-size="16.6" font-weight="bold" font-style="italic" fill="#666">k</text>
</svg></body></html>
